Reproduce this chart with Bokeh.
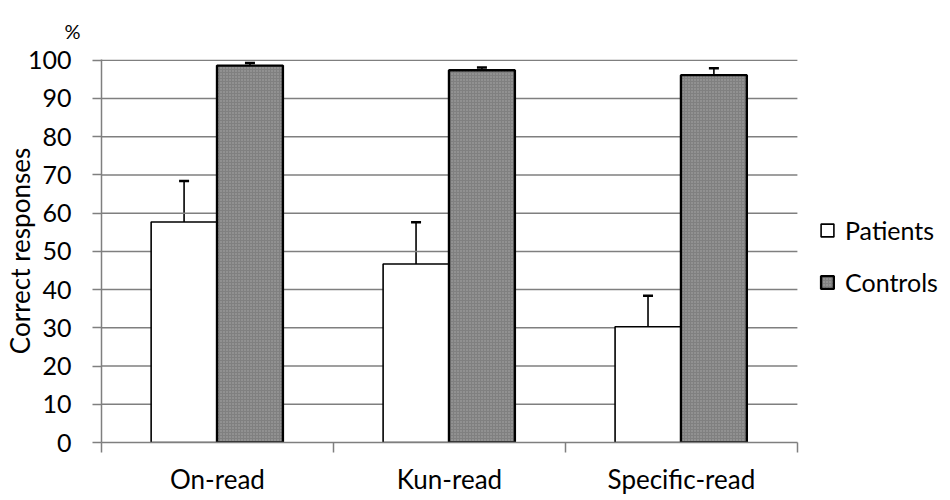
from bokeh.plotting import figure
from bokeh.models import (ColumnDataSource, FixedTicker, Whisker, TeeHead, Legend,
                          LegendItem, Range1d)
from bokeh.embed import file_html
from bokeh.resources import INLINE

categories = ["On-read", "Kun-read", "Specific-read"]
patients = [57.7, 46.7, 30.3]
patients_err = [68.4, 57.6, 38.4]
controls = [98.6, 97.4, 96.1]
controls_err = [99.3, 98.1, 97.9]
y_ticks = [0, 10, 20, 30, 40, 50, 60, 70, 80, 90, 100]

FONT = "Lato"
FS = "25px"
XFS = "26px"

n = len(categories)
idx = list(range(n))
p_x = [i + 0.356 for i in idx]
c_x = [i + 0.640 for i in idx]

src_p = ColumnDataSource(dict(x=p_x, top=patients, err=patients_err))
src_c = ColumnDataSource(dict(x=c_x, top=controls, err=controls_err))

p = figure(width=950, height=500, output_backend="svg", toolbar_location=None,
           x_range=Range1d(0, 3.66), y_range=Range1d(0, 100.2),
           min_border_left=101, min_border_right=0, min_border_top=59,
           min_border_bottom=58, title="%")
p.outline_line_color = None
p.background_fill_color = "white"

p.title.text_font = FONT
p.title.text_font_size = "20px"
p.title.text_font_style = "normal"
p.title.text_color = "black"
p.title.vertical_align = "top"
p.title.align = "left"
p.title.offset = -37
p.title.standoff = 30

# horizontal gridlines limited to the category area
grid_y = y_ticks[1:]
p.segment(x0=[0] * len(grid_y), x1=[n] * len(grid_y), y0=grid_y, y1=grid_y,
          line_color="#7f7f7f", line_width=1.5)

rp = p.vbar(x="x", top="top", bottom=0, width=0.284, source=src_p,
            fill_color="white", line_color="black", line_width=1.6)
rc = p.vbar(x="x", top="top", bottom=0, width=0.284, source=src_c,
            fill_color="#808080", line_color="black", line_width=2.4,
            hatch_pattern="dot", hatch_scale=3, hatch_color="#aaaaaa", hatch_weight=1)

for src in (src_p, src_c):
    w = Whisker(base="x", lower="top", upper="err", source=src,
                line_color="black", line_width=1.6,
                upper_head=TeeHead(size=10, line_color="black", line_width=2.5),
                lower_head=None)
    p.add_layout(w)

# x axis
p.xaxis.bounds = (0, n)
p.xaxis.ticker = FixedTicker(ticks=[i + 0.5 for i in idx], minor_ticks=list(range(n + 1)))
p.xaxis.major_label_overrides = {i + 0.5: c for i, c in zip(idx, categories)}
p.xaxis.major_tick_out = 0
p.xaxis.major_tick_in = 0
p.xaxis.minor_tick_out = 10
p.xaxis.minor_tick_in = 0
p.xaxis.minor_tick_line_color = "#7f7f7f"
p.xaxis.minor_tick_line_width = 1.5
p.xaxis.axis_line_color = "#7f7f7f"
p.xaxis.axis_line_width = 1.5
p.xaxis.major_label_text_font = FONT
p.xaxis.major_label_text_font_size = XFS
p.xaxis.major_label_text_color = "black"
p.xaxis.major_label_standoff = 10
p.xgrid.grid_line_color = None

# y axis
p.yaxis.ticker = FixedTicker(ticks=y_ticks)
p.yaxis.minor_tick_line_color = None
p.yaxis.major_tick_out = 9
p.yaxis.major_tick_in = 0
p.yaxis.major_tick_line_color = "#7f7f7f"
p.yaxis.major_tick_line_width = 1.5
p.yaxis.axis_line_color = "#7f7f7f"
p.yaxis.axis_line_width = 1.5
p.yaxis.major_label_text_font = FONT
p.yaxis.major_label_text_font_size = FS
p.yaxis.major_label_text_color = "black"
p.yaxis.major_label_standoff = 21
p.yaxis.axis_label = "Correct responses"
p.yaxis.axis_label_text_font = FONT
p.yaxis.axis_label_text_font_size = "26px"
p.yaxis.axis_label_text_font_style = "normal"
p.yaxis.axis_label_text_color = "black"
p.yaxis.axis_label_standoff = -11
p.ygrid.grid_line_color = None

legend = Legend(items=[LegendItem(label="Patients", renderers=[rp]),
                       LegendItem(label="Controls", renderers=[rc])],
                location=(718, 145), orientation="vertical")
legend.label_text_font = FONT
legend.label_text_font_size = FS
legend.label_text_color = "black"
legend.glyph_width = 16
legend.glyph_height = 16
legend.label_height = 30
legend.label_standoff = 10
legend.spacing = 22
legend.padding = 0
legend.margin = 0
legend.border_line_color = None
legend.background_fill_alpha = 0
p.add_layout(legend, "center")

open("out.html", "w").write(file_html(p, INLINE))
